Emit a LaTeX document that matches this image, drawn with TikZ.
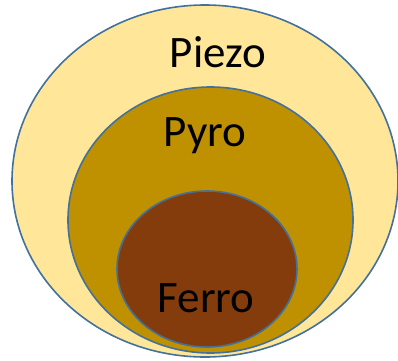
\documentclass[tikz,border=0pt]{standalone}
\usepackage{fontspec}
\setmainfont{Carlito}
\usepackage{xcolor}
\definecolor{colorPiezo}{HTML}{FFE699}
\definecolor{colorPyro}{HTML}{BF9000}
\definecolor{colorFerro}{HTML}{843C0C}
\definecolor{colorBorder}{HTML}{41719C}
\usetikzlibrary{shapes.geometric, positioning}
\tikzset{set/.style={ellipse, draw=colorBorder, line width=1.6pt, inner sep=0pt},
  setname/.style={anchor=base, font=\fontsize{45}{50}\selectfont, text=black}}

\begin{document}
\begin{tikzpicture}[x=1pt, y=1pt]
\useasboundingbox (0,0) rectangle (398,360);
\node[set, fill=colorPiezo, minimum width=386pt, minimum height=352pt] (piezo) at (205,179) {};
\node[set, fill=colorPyro, minimum width=285pt, minimum height=266pt] (pyro) at (210.5,140) {};
\node[set, fill=colorFerro, minimum width=180pt, minimum height=156pt] (ferro) at (207,91) {};
\node[setname] (piezolbl) at (218,293) {Piezo};
\node[setname] (pyrolbl) at (205,214) {Pyro};
\node[setname] (ferrolbl) at (206,48) {Ferro};
\end{tikzpicture}
\end{document}
